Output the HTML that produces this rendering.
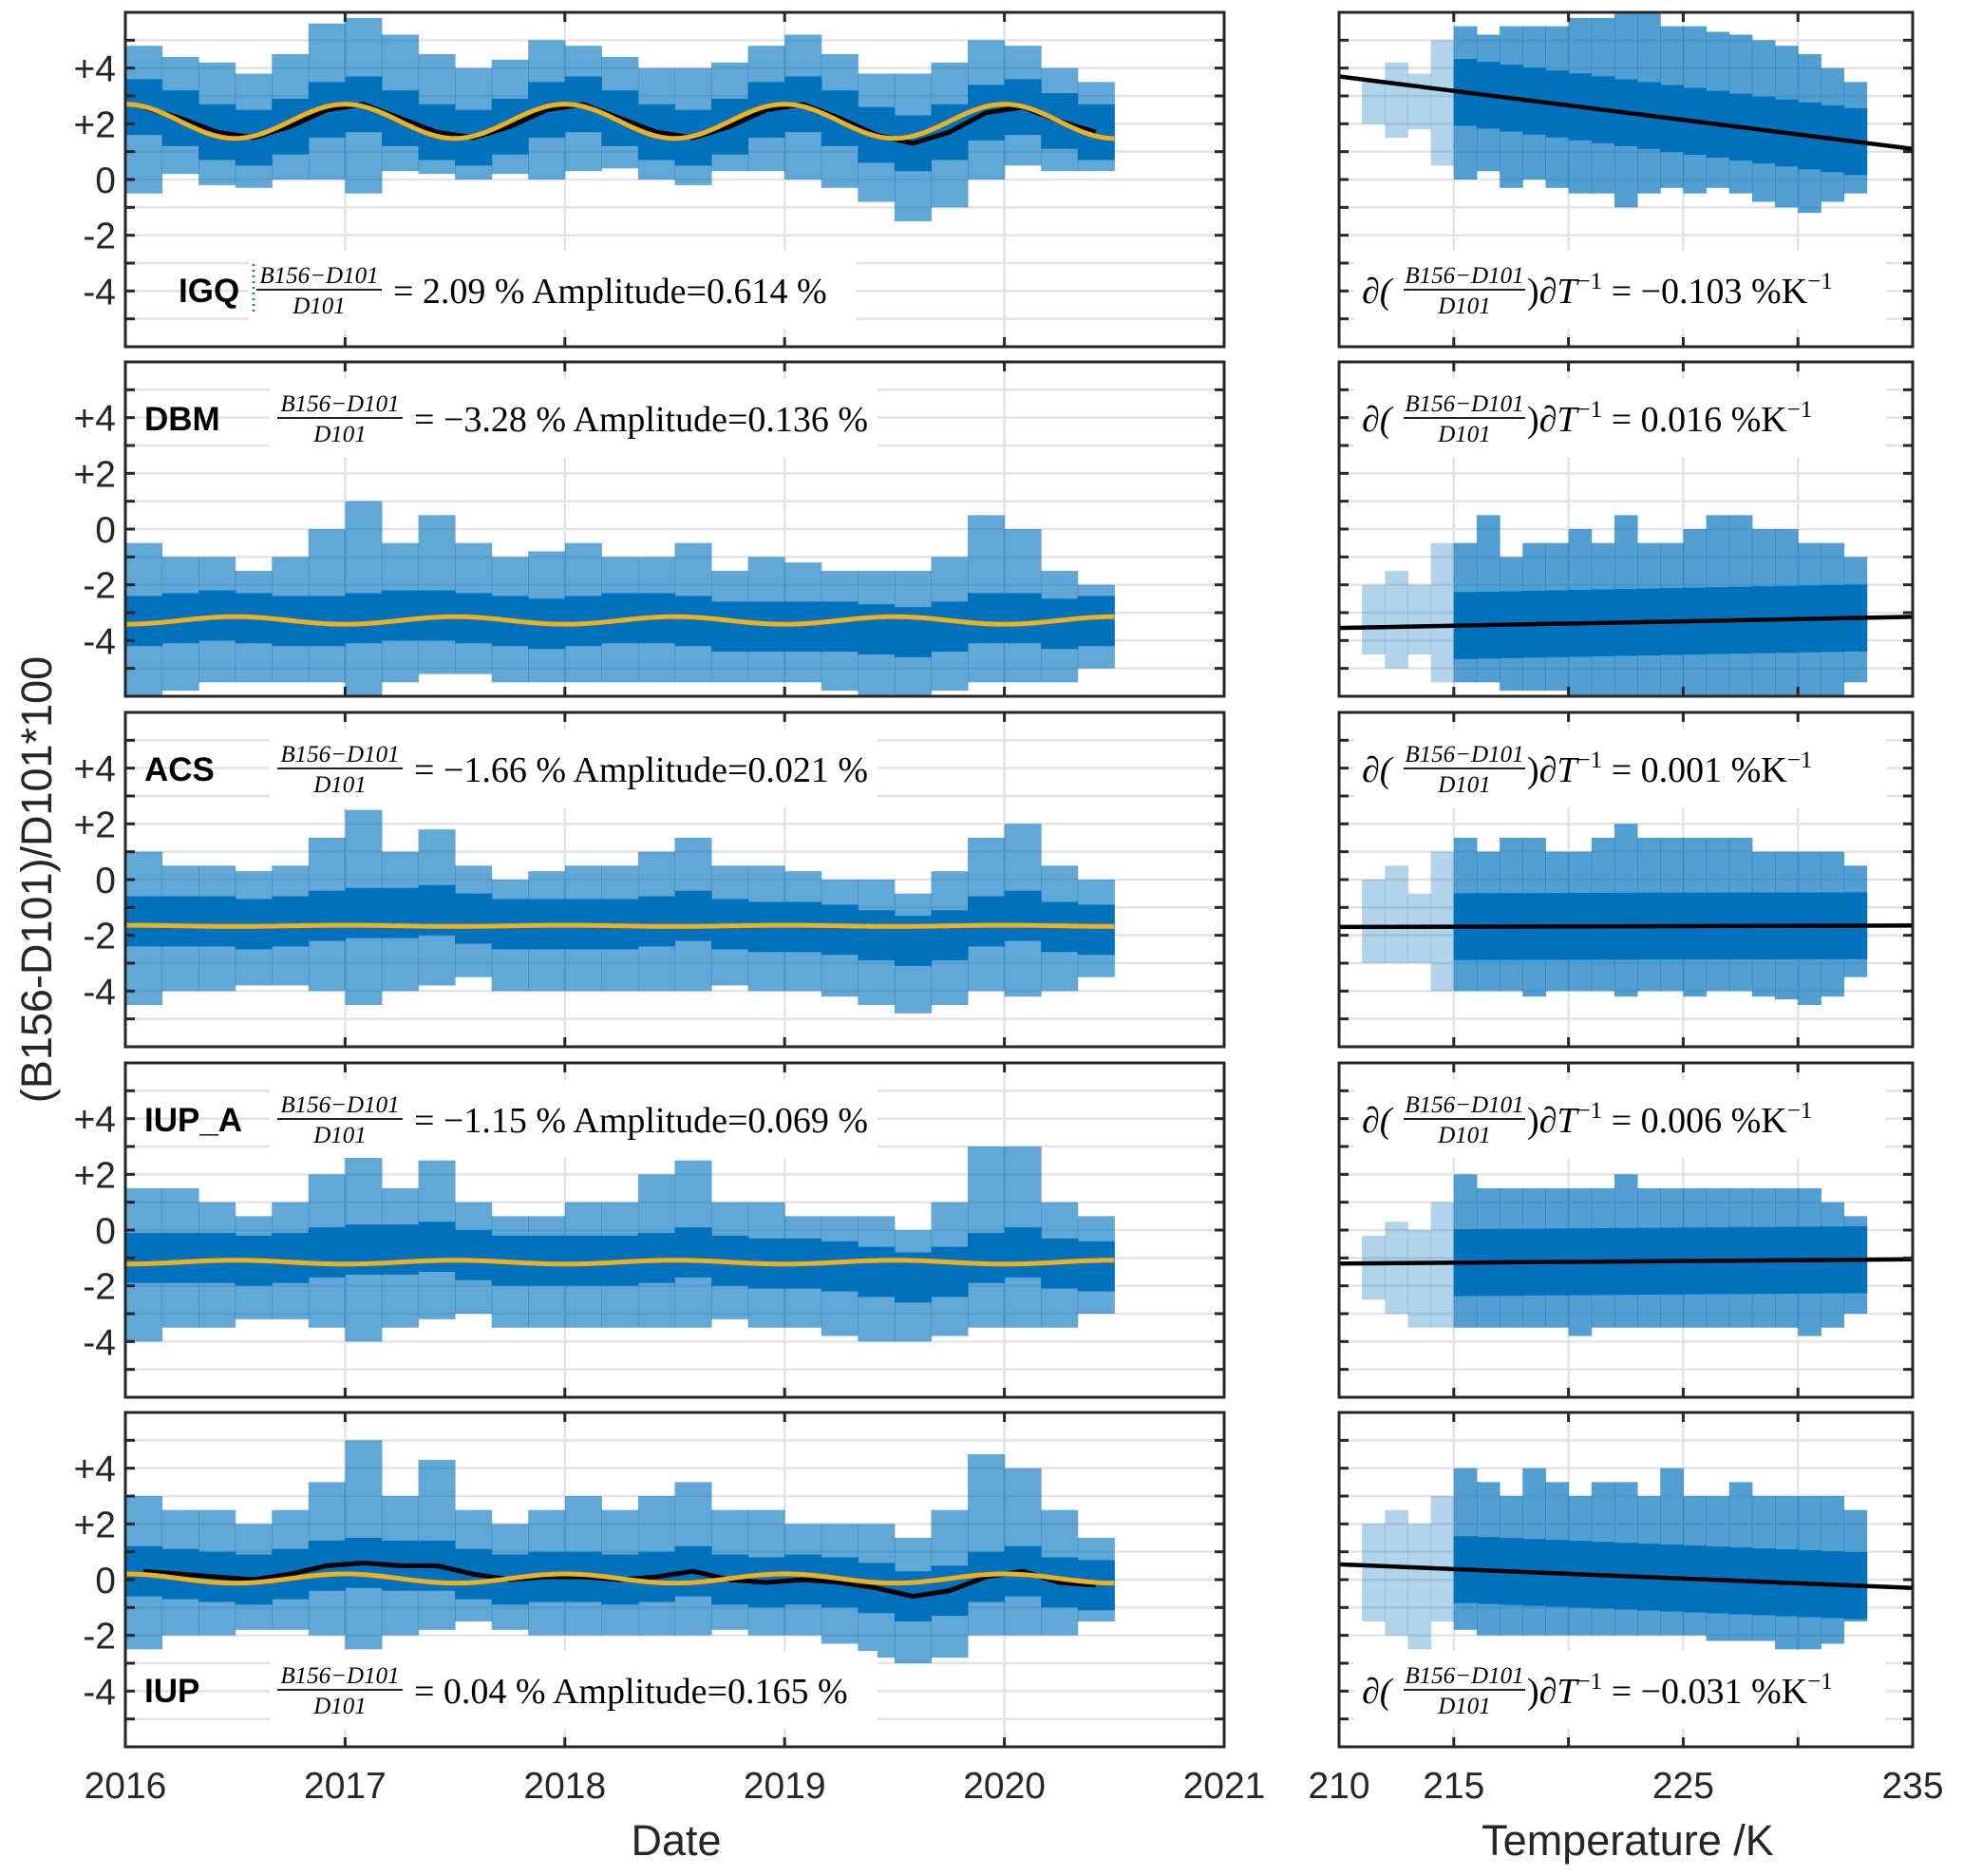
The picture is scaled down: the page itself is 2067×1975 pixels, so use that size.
<!DOCTYPE html>
<html><head><meta charset="utf-8">
<style>
html,body{margin:0;padding:0;background:#fff;}
svg{display:block;}
.tick{font-family:"Liberation Sans",sans-serif;font-size:39px;fill:#262626;}
.ax{font-family:"Liberation Sans",sans-serif;font-size:45px;fill:#262626;}
.lab{font-family:"Liberation Sans",sans-serif;font-size:35px;font-weight:bold;fill:#000;}
.m{font-family:"Liberation Serif",serif;font-size:38px;fill:#000;}
.mf{font-family:"Liberation Serif",serif;font-size:25px;fill:#000;font-style:italic;}
</style></head>
<body>
<svg id="fig" width="2067" height="1975" viewBox="0 0 2067 1975" xmlns="http://www.w3.org/2000/svg"></svg>
<script>
// ---- data ----
const stations = ["IGQ","DBM","ACS","IUP_A","IUP"];
const meanValues = ["2.09","−3.28","−1.66","−1.15","0.04"];
const amplitudeValues = ["0.614","0.136","0.021","0.069","0.165"];
const slopeValues = ["−0.103","0.016","0.001","0.006","−0.031"];
const fitOffset = [2.09,-3.28,-1.66,-1.15,0.04];
const fitAmp = [0.614,0.136,0.021,0.069,0.165];
const fitPhase = [0,0.5,0,0.5,0];
const showBlack = [true,false,false,false,true];
const coreHalf = [1.0,0.9,0.9,0.9,0.9];
const dateBinStart = 2016.0;
const dateBinStep = 1/6;
const igqHi = [4.8,4.4,4.2,3.8,4.5,5.6,5.8,5.2,4.5,4.0,4.3,5.0,4.8,4.4,4.0,4.0,4.2,4.8,5.2,4.5,3.8,3.8,4.2,5.0,4.8,4.0,3.5];
const igqLo = [-0.5,0.2,-0.2,-0.3,0.0,0.0,-0.5,0.3,0.2,0.0,0.2,0.0,0.3,0.4,0.0,-0.2,0.3,0.3,0.0,-0.3,-0.8,-1.5,-1.0,0.0,0.5,0.3,0.3];
const igqMean = [2.6,2.2,1.7,1.5,1.9,2.5,2.7,2.2,1.7,1.5,1.9,2.5,2.7,2.2,1.7,1.5,1.9,2.5,2.7,2.2,1.6,1.3,1.7,2.4,2.6,2.1,1.7];
const dbmHi = [-0.5,-1.0,-1.0,-1.5,-1.0,0.0,1.0,-0.5,0.5,-0.5,-1.0,-0.8,-0.5,-1.0,-1.0,-0.5,-1.5,-1.0,-1.2,-1.5,-1.5,-1.5,-1.0,0.5,0.0,-1.5,-2.0];
const dbmLo = [-6,-5.8,-5.5,-5.5,-5.5,-5.5,-6,-5.5,-5.2,-5.2,-5.5,-5.5,-5.5,-5.5,-5.5,-5.5,-5.5,-5.5,-5.5,-5.8,-6,-6,-5.8,-5.5,-5.5,-5.5,-5.0];
const dbmMean = [-3.3,-3.2,-3.1,-3.2,-3.3,-3.3,-3.2,-3.1,-3.1,-3.2,-3.3,-3.4,-3.3,-3.2,-3.2,-3.3,-3.5,-3.5,-3.5,-3.5,-3.6,-3.7,-3.5,-3.2,-3.2,-3.4,-3.3];
const acsHi = [1.0,0.5,0.5,0.3,0.5,1.5,2.5,1.0,1.8,0.5,0.0,0.3,0.5,0.5,1.0,1.5,0.5,0.5,0.3,0.0,0.0,-0.5,0.3,1.5,2.0,0.5,0.0];
const acsLo = [-4.5,-4,-4,-3.8,-3.8,-4,-4.5,-4,-3.8,-3.5,-4,-4,-4,-4,-4,-4,-3.8,-4,-4,-4.2,-4.5,-4.8,-4.5,-4,-4.2,-4,-3.5];
const acsMean = [-1.5,-1.5,-1.5,-1.6,-1.5,-1.3,-1.2,-1.2,-1.1,-1.4,-1.6,-1.6,-1.6,-1.6,-1.5,-1.3,-1.6,-1.7,-1.7,-1.8,-2.0,-2.2,-2.0,-1.5,-1.3,-1.7,-1.8];
const iupaHi = [1.5,1.5,1.0,0.5,1.0,2.0,2.8,1.5,2.5,1.0,0.5,0.5,1.0,1.0,2.0,2.5,1.0,1.0,0.5,0.5,0.5,0.0,1.0,3.0,3.0,1.0,0.5];
const iupaLo = [-4,-3.5,-3.5,-3.2,-3.2,-3.5,-4,-3.5,-3.2,-3,-3.5,-3.5,-3.5,-3.5,-3.5,-3.5,-3.2,-3.5,-3.5,-3.8,-4,-4,-3.8,-3.5,-3.5,-3.5,-3.0];
const iupaMean = [-1.0,-1.0,-1.0,-1.1,-1.0,-0.8,-0.7,-0.7,-0.6,-0.9,-1.1,-1.1,-1.1,-1.1,-1.0,-0.8,-1.1,-1.2,-1.2,-1.3,-1.5,-1.7,-1.5,-1.0,-0.8,-1.2,-1.3];
const iupHi = [3,2.5,2.5,2,2.5,3.5,5,3,4.3,2.5,2,2.5,3,2.5,3,3.5,2.5,2.5,2,2,2,1.5,2.5,4.5,4,2.5,1.5];
const iupLo = [-2.5,-2,-2,-1.8,-1.8,-2,-2.5,-2,-1.8,-1.5,-1.8,-2,-2,-2,-2,-2,-1.8,-2,-2,-2.3,-2.8,-3,-2.8,-2,-2,-2,-1.5];
const iupMean = [0.3,0.2,0.1,0.0,0.2,0.5,0.6,0.5,0.5,0.2,0.0,0.1,0.1,0.0,0.1,0.3,0.0,-0.1,0.0,-0.1,-0.3,-0.6,-0.4,0.1,0.3,-0.1,-0.2];
const dateHi = [igqHi,dbmHi,acsHi,iupaHi,iupHi];
const dateLo = [igqLo,dbmLo,acsLo,iupaLo,iupLo];
const dateMean = [igqMean,dbmMean,acsMean,iupaMean,iupMean];
// temperature scatter (1 K bins starting 211 K)
const tempBinStart = 211;
const tempDenseFrom = 214.5;
const igqTHi = [3.5,4.2,3.8,5.0,5.5,5.2,5.5,5.5,5.5,5.8,5.8,6,6,5.5,5.5,5.3,5.2,5.0,4.8,4.5,4.0,3.5];
const igqTLo = [2.0,1.5,1.8,0.5,0.0,0.3,-0.3,0.0,-0.3,-0.5,-0.5,-1.0,-0.5,-0.3,-0.5,-0.3,-0.5,-0.8,-1.0,-1.2,-0.8,-0.5];
const dbmTHi = [-2.0,-1.5,-2.0,-0.5,-0.5,0.5,-1.0,-0.5,-0.5,0.0,-0.5,0.5,-0.5,-0.5,0.0,0.5,0.5,0.0,0.0,-0.5,-0.5,-1.0];
const dbmTLo = [-4.5,-5.0,-4.5,-5.5,-5.5,-5.5,-5.8,-5.8,-5.8,-6,-6,-6,-6,-6,-6,-6,-6,-6,-6,-6,-6,-5.5];
const acsTHi = [0,0.5,-0.5,1.0,1.5,1.0,1.5,1.5,1.0,1.0,1.5,2.0,1.5,1.5,1.5,1.5,1.5,1.0,1.0,1.0,1.0,0.5];
const acsTLo = [-3,-3,-3,-4,-4,-4,-4,-4.2,-4,-4,-4,-4.2,-4,-4,-4.2,-4,-4,-4.2,-4.3,-4.5,-4.2,-3.5];
const iupaTHi = [-0.2,0.3,0,1.0,2.0,1.5,1.5,1.5,1.5,1.5,1.5,2.0,1.5,1.5,1.5,1.5,1.5,1.5,1.5,1.5,1.0,0.5];
const iupaTLo = [-2.5,-3,-3.5,-3.5,-3.5,-3.5,-3.5,-3.5,-3.5,-3.8,-3.5,-3.5,-3.5,-3.5,-3.5,-3.5,-3.5,-3.5,-3.5,-3.8,-3.5,-3.0];
const iupTHi = [2,2.5,2,3,4,3.5,3,4,3.5,3,3.5,3.5,3,4,3,3,3.5,3,3,3,3,2.5];
const iupTLo = [-1.5,-2.0,-2.5,-1.5,-1.8,-2,-2,-2,-2,-2,-2,-2,-2,-2,-2,-2.2,-2.2,-2.2,-2.5,-2.5,-2.3,-1.5];
const tempHi = [igqTHi,dbmTHi,acsTHi,iupaTHi,iupTHi];
const tempLo = [igqTLo,dbmTLo,acsTLo,iupaTLo,iupTLo];
const lineAt210 = [3.7,-3.55,-1.7,-1.2,0.55];
const lineAt235 = [1.1,-3.15,-1.65,-1.05,-0.3];
const yTicks = [-4,-2,0,2,4];
const yTickLabels = ["-4","-2","0","+2","+4"];
const dateTicks = [2016,2017,2018,2019,2020,2021];
const tempTicks = [210,215,225,235];
const tempGrid = [215,220,225,230];

// ---- layout ----
const NS="http://www.w3.org/2000/svg";
const svg=document.getElementById('fig');
const LX0=132,LX1=1289,RX0=1410,RX1=2014,PH=352;
const tops=[13,381,750,1119,1487];
function el(tag,attrs,parent){const e=document.createElementNS(NS,tag);for(const k in attrs)e.setAttribute(k,attrs[k]);(parent||svg).appendChild(e);return e;}
const xDate=t=>LX0+(t-2016)/5*(LX1-LX0);
const xTemp=T=>RX0+(T-210)/25*(RX1-RX0);
const yv=(v,p)=>tops[p]+(6-v)/12*PH;
const BLUE="#0072BD";

for(let p=0;p<5;p++){
  const top=tops[p],bot=top+PH;
  const g=el('g',{});
  
  
  for(const [x0,x1,side] of [[LX0,LX1,'date'],[RX0,RX1,'temp']]){
    for(let v=-5;v<=5;v++){
      const gl=el('line',{x1:x0,x2:x1,y1:yv(v,p),y2:yv(v,p),stroke:'#e3e3e3','stroke-width':2.5},g);
      
      
    }
    const vg = side==='date'?dateTicks.map(xDate):tempGrid.map(xTemp);
    vg.forEach(x=>{
      const gl=el('line',{x1:x,x2:x,y1:top,y2:bot,stroke:'#e3e3e3','stroke-width':2.5},g);
      
      
    });
  }
  // date scatter
  const hi=dateHi[p],lo=dateLo[p],mn=dateMean[p];
  const bw=(LX1-LX0)/5*dateBinStep;
  for(let i=0;i<hi.length;i++){
    const x=xDate(dateBinStart+i*dateBinStep);
    const r=el('rect',{x:x,y:yv(hi[i],p),width:bw+0.5,height:yv(lo[i],p)-yv(hi[i],p),fill:BLUE,'fill-opacity':0.62},g);
    
    
    const c=el('rect',{x:x,y:yv(mn[i]+coreHalf[p],p),width:bw+0.5,height:yv(mn[i]-coreHalf[p],p)-yv(mn[i]+coreHalf[p],p),fill:BLUE},g);
    
    
  }
  if(showBlack[p]){
    const pts=mn.map((v,i)=>xDate(dateBinStart+(i+0.5)*dateBinStep)+','+yv(v,p)).join(' ');
    const bl=el('polyline',{points:pts,fill:'none',stroke:'#000','stroke-width':5},g);
    
    
  }
  let fp=[];
  for(let t=2016;t<=2020.5001;t+=0.02){fp.push(xDate(t)+','+yv(fitOffset[p]+fitAmp[p]*Math.cos(2*Math.PI*(t-fitPhase[p])),p));}
  const fl=el('polyline',{points:fp.join(' '),fill:'none',stroke:'#EDB120','stroke-width':5},g);
  
  
  // temp scatter
  const th=tempHi[p],tl=tempLo[p];
  const tw=(RX1-RX0)/25;
  const slope=(lineAt235[p]-lineAt210[p])/25;
  for(let i=0;i<th.length;i++){
    const T=tempBinStart+i;
    const dense=T+0.5>tempDenseFrom;
    const r=el('rect',{x:xTemp(T),y:yv(th[i],p),width:tw+0.5,height:yv(tl[i],p)-yv(th[i],p),fill:BLUE,'fill-opacity':dense?0.68:0.3},g);
    
    
    if(dense){
      const m=lineAt210[p]+slope*(T+0.5-210);
      const c=el('rect',{x:xTemp(T),y:yv(m+1.2,p),width:tw+0.5,height:yv(m-1.2,p)-yv(m+1.2,p),fill:BLUE},g);
      
      
    }
  }
  const tl2=el('line',{x1:xTemp(210),x2:xTemp(235),y1:yv(lineAt210[p],p),y2:yv(lineAt235[p],p),stroke:'#000','stroke-width':4.5},g);
  
  
  // axes boxes and ticks
  for(const [x0,x1] of [[LX0,LX1],[RX0,RX1]]){
    const b=el('rect',{x:x0,y:top,width:x1-x0,height:PH,fill:'none',stroke:'#262626','stroke-width':3},g);
    
    
    for(let v=-5;v<=5;v++){
      el('line',{x1:x0,x2:x0+10,y1:yv(v,p),y2:yv(v,p),stroke:'#262626','stroke-width':3},g);
      el('line',{x1:x1-10,x2:x1,y1:yv(v,p),y2:yv(v,p),stroke:'#262626','stroke-width':3},g);
    }
  }
  dateTicks.forEach(t=>{const x=xDate(t);el('line',{x1:x,x2:x,y1:top,y2:top+10,stroke:'#262626','stroke-width':3},g);el('line',{x1:x,x2:x,y1:bot-10,y2:bot,stroke:'#262626','stroke-width':3},g);});
  [215,220,225,230].forEach(T=>{const x=xTemp(T);el('line',{x1:x,x2:x,y1:top,y2:top+10,stroke:'#262626','stroke-width':3},g);el('line',{x1:x,x2:x,y1:bot-10,y2:bot,stroke:'#262626','stroke-width':3},g);});
  yTicks.forEach((v,i)=>{
    const t=el('text',{x:LX0-10,y:yv(v,p)+14,'text-anchor':'end',class:'tick'},g);
    t.textContent=yTickLabels[i];
    
    
  });
  // annotations
  const rowY = (p===0||p===4)? top+293 : top+60;
  const lx = p===0?188:152;
  const lab=el('text',{x:lx,y:rowY+12,class:'lab'},g);
  lab.textContent=stations[p];
  
  
  const fx = p===0?270:292;
  const lg=el('g',{},g);
  
  
  el('rect',{x:fx-8,y:rowY-42,width:640,height:82,fill:'#fff'},lg);
  el('text',{x:fx+66,y:rowY-8,'text-anchor':'middle',class:'mf'},lg).textContent='B156−D101';
  el('line',{x1:fx,x2:fx+132,y1:rowY-1,y2:rowY-1,stroke:'#000','stroke-width':1.8},lg);
  el('text',{x:fx+66,y:rowY+24,'text-anchor':'middle',class:'mf'},lg).textContent='D101';
  el('text',{x:fx+144,y:rowY+13,class:'m'},lg).textContent='= '+meanValues[p]+' % Amplitude='+amplitudeValues[p]+' %';
  if(p===0){
    el('line',{x1:270-3,x2:270-3,y1:rowY-28,y2:rowY+22,stroke:BLUE,'stroke-width':2.5,'stroke-dasharray':'2 4'},lg);
  }
  const sg=el('g',{},g);
  
  
  const sx=1434;
  el('rect',{x:sx-8,y:rowY-42,width:560,height:82,fill:'#fff'},sg);
  el('text',{x:sx,y:rowY+13,class:'m','font-style':'italic'},sg).textContent='∂(';
  el('text',{x:sx+108,y:rowY-8,'text-anchor':'middle',class:'mf'},sg).textContent='B156−D101';
  el('line',{x1:sx+44,x2:sx+172,y1:rowY-1,y2:rowY-1,stroke:'#000','stroke-width':1.8},sg);
  el('text',{x:sx+108,y:rowY+24,'text-anchor':'middle',class:'mf'},sg).textContent='D101';
  const st=el('text',{x:sx+174,y:rowY+13,class:'m'},sg);
  st.innerHTML='<tspan>)∂</tspan><tspan font-style="italic">T</tspan><tspan font-size="25" dy="-15">−1</tspan><tspan dy="15"> = '+slopeValues[p]+' %K</tspan><tspan font-size="25" dy="-15">−1</tspan>';
}
// x tick labels
dateTicks.forEach(t=>{
  const tx=el('text',{x:xDate(t),y:1893,'text-anchor':'middle',class:'tick'});
  tx.textContent=String(t);
  
  
});
tempTicks.forEach(T=>{
  const tx=el('text',{x:xTemp(T),y:1893,'text-anchor':'middle',class:'tick'});
  tx.textContent=String(T);
  
  
});
const xt1=el('text',{x:712,y:1953,'text-anchor':'middle',class:'ax'});
xt1.textContent='Date';


const xt2=el('text',{x:1714,y:1953,'text-anchor':'middle',class:'ax'});
xt2.textContent='Temperature /K';


const yt=el('text',{x:0,y:0,'text-anchor':'middle',class:'ax',transform:'translate(54,926) rotate(-90)'});
yt.textContent='(B156-D101)/D101*100';


</script>
</body></html>
